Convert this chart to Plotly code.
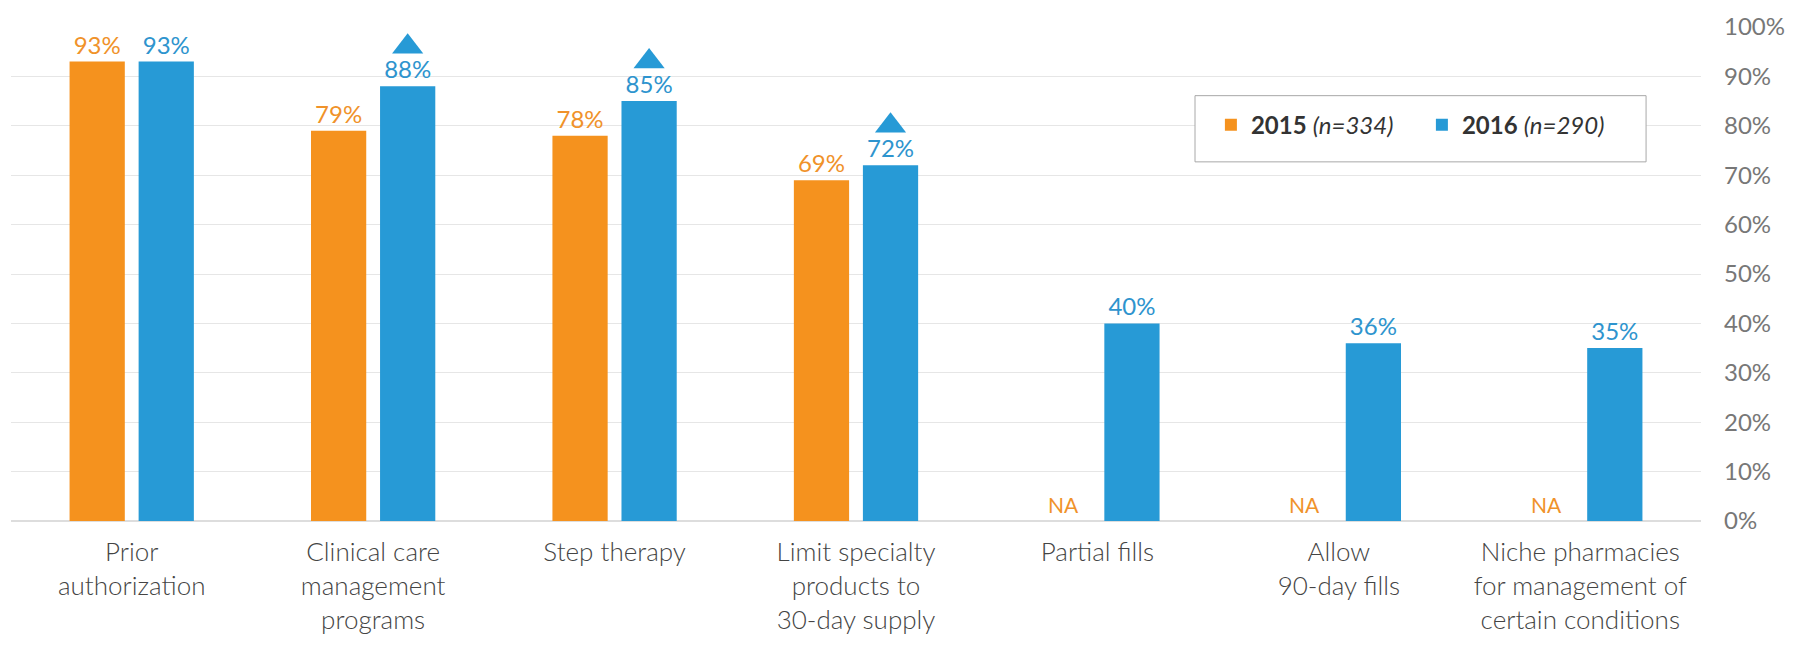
import plotly.graph_objects as go

categories = [
    "Prior<br>authorization",
    "Clinical care<br>management<br>programs",
    "Step therapy",
    "Limit specialty<br>products to<br>30-day supply",
    "Partial fills",
    "Allow<br>90-day fills",
    "Niche pharmacies<br>for management of<br>certain conditions",
]
values_2015 = [93, 79, 78, 69, None, None, None]
values_2016 = [93, 88, 85, 72, 40, 36, 35]
significant_2016 = [False, True, True, True, False, False, False]
y_ticks = [0, 10, 20, 30, 40, 50, 60, 70, 80, 90, 100]
y_tick_labels = [f"{v}%" for v in y_ticks]

ORANGE = "#F5921E"
BLUE = "#279AD6"
ORANGE_TXT = "#F0922A"
BLUE_TXT = "#2E94CE"
FONT = "Lato"
TRI_GAP = 8  # vertical gap (axis units) between bar top and significance marker

fig = go.Figure()
fig.add_trace(go.Bar(
    x=categories, y=values_2015, name="<b>2015</b> <i>(n=334)</i>",
    offsetgroup="a",
    marker=dict(color=ORANGE, line=dict(width=0)),
    text=[f"{v}%" if v is not None else "" for v in values_2015],
    textposition="outside", cliponaxis=False,
    textfont=dict(color=ORANGE_TXT, size=24, family=FONT),
))
fig.add_trace(go.Bar(
    x=categories, y=values_2016, name="<b>2016</b> <i>(n=290)</i>",
    offsetgroup="b",
    marker=dict(color=BLUE, line=dict(width=0)),
    text=[f"{v}%" for v in values_2016],
    textposition="outside", cliponaxis=False,
    textfont=dict(color=BLUE_TXT, size=24, family=FONT),
))
# significance markers, grouped so they align with the 2016 bars
fig.add_trace(go.Scatter(
    x=categories, y=[None] * len(categories), mode="markers", showlegend=False,
    hoverinfo="skip", offsetgroup="a", marker=dict(size=1, color="rgba(0,0,0,0)"),
))
fig.add_trace(go.Scatter(
    x=categories, y=[v + TRI_GAP if s else None for v, s in zip(values_2016, significant_2016)],
    mode="markers", showlegend=False, hoverinfo="skip", offsetgroup="b", cliponaxis=False,
    marker=dict(symbol="triangle-up", size=27, color=BLUE, line=dict(width=0)),
))

annotations = []
for c, v15 in zip(categories, values_2015):
    if v15 is None:
        annotations.append(dict(x=c, y=0, xref="x", yref="y", text="NA", showarrow=False,
                                yanchor="bottom", xanchor="center", xshift=-34, yshift=2,
                                font=dict(color=ORANGE_TXT, size=21, family=FONT)))

fig.update_layout(
    width=1802, height=666,
    margin=dict(l=11, r=101, t=21, b=145),
    paper_bgcolor="white", plot_bgcolor="white",
    barmode="group", bargap=0.428, bargroupgap=0.2,
    scattermode="group", scattergap=0.428,
    showlegend=True,
    legend=dict(orientation="h", x=0.710, y=0.847, xanchor="left", yanchor="top",
                bgcolor="rgba(0,0,0,0)", borderwidth=0,
                font=dict(size=24, color="#333", family=FONT),
                entrywidth=166, traceorder="normal"),
    shapes=[dict(type="rect", xref="paper", yref="paper", x0=0.7006, x1=0.9675, y0=0.727, y1=0.861,
                 line=dict(color="#A8A8A8", width=1), fillcolor="white", layer="above")],
    annotations=annotations,
    font=dict(family=FONT),
)
fig.update_xaxes(
    tickfont=dict(size=26, color="#444", family=FONT, weight=300),
    showgrid=False, showline=False, ticks="", ticklabelstandoff=13,
)
fig.update_yaxes(
    range=[0, 100], side="right", tickvals=y_ticks, ticktext=y_tick_labels,
    showgrid=True, gridcolor="#E6E6E6", gridwidth=1, zeroline=True, zerolinecolor="#DDDDDD",
    tickfont=dict(size=24, color="#777", family=FONT), ticks="", ticklabelstandoff=22,
    showline=False,
)
fig.write_html("out.html")
